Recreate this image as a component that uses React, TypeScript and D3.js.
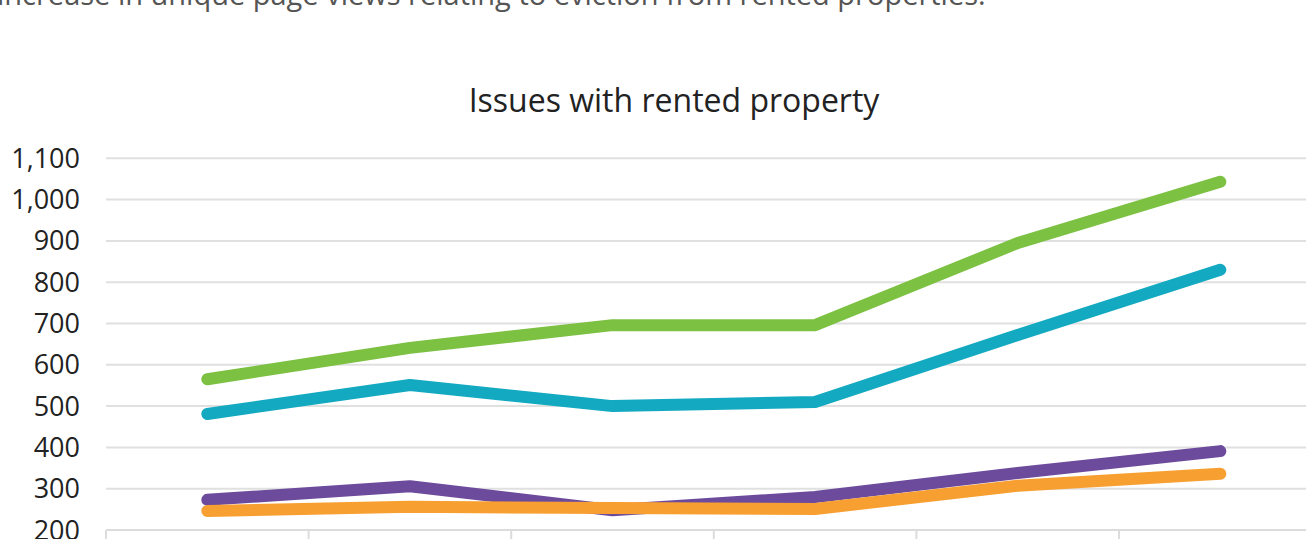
import React, { useEffect, useRef } from 'react';
import * as d3 from 'd3';

// categories sit below the visible crop, labels are not readable
const periods = ['P1', 'P2', 'P3', 'P4', 'P5', 'P6'];
const yTicks = [200, 300, 400, 500, 600, 700, 800, 900, 1000, 1100];

const greenSeries = [565, 641, 696, 696, 895, 1043];
const tealSeries = [481, 551, 500, 510, 672, 830];
const purpleSeries = [273, 306, 248, 280, 338, 391];
const orangeSeries = [246, 256, 253, 251, 307, 336];

const series = [
  { name: 'green', values: greenSeries, color: '#7cc142' },
  { name: 'teal', values: tealSeries, color: '#13a9c1' },
  { name: 'purple', values: purpleSeries, color: '#6d4b9c' },
  { name: 'orange', values: orangeSeries, color: '#f89f31' },
];

const W = 1306;
const H = 539;

export default function App() {
  const ref = useRef<SVGSVGElement>(null);

  useEffect(() => {
    const svg = d3.select(ref.current);
    svg.selectAll('*').remove();

    const font = "'Open Sans', 'Noto Sans', sans-serif";
    const left = 106;
    const step = 202.6;
    const x = d3.scaleBand<string>().domain(periods).range([left, left + step * periods.length]);
    const y = d3.scaleLinear().domain([200, 1100]).range([530, 158.3]);

    // cut-off intro sentence at the very top
    svg.append('text')
      .attr('x', -3)
      .attr('y', 5)
      .attr('font-family', font)
      .attr('font-size', 29)
      .attr('fill', '#555')
      .text('increase in unique page views relating to eviction from rented properties.');

    svg.append('text')
      .attr('x', 674)
      .attr('y', 112)
      .attr('text-anchor', 'middle')
      .attr('font-family', font)
      .attr('font-size', 32)
      .attr('fill', '#222')
      .text('Issues with rented property');

    const grid = svg.append('g');
    grid.selectAll('line')
      .data(yTicks.slice(1))
      .enter()
      .append('line')
      .attr('x1', left)
      .attr('x2', W)
      .attr('y1', d => y(d))
      .attr('y2', d => y(d))
      .attr('stroke', '#e0e0e0')
      .attr('stroke-width', 2);

    // bottom axis with category dividers
    const axis = svg.append('g')
      .attr('transform', 'translate(0,' + y(200) + ')');
    axis.append('line')
      .attr('x1', left).attr('x2', W)
      .attr('stroke', '#dcdcdc').attr('stroke-width', 2);
    axis.selectAll('.divider')
      .data(d3.range(periods.length + 1))
      .enter()
      .append('line')
      .attr('x1', i => left + i * x.step())
      .attr('x2', i => left + i * x.step())
      .attr('y1', 0)
      .attr('y2', 14)
      .attr('stroke', '#dcdcdc')
      .attr('stroke-width', 2);

    svg.append('g')
      .selectAll('text')
      .data(yTicks)
      .enter()
      .append('text')
      .attr('x', 80)
      .attr('y', d => y(d) + 9.5)
      .attr('text-anchor', 'end')
      .attr('font-family', font)
      .attr('font-size', 27)
      .attr('fill', '#222')
      .text(d => d3.format(',')(d));

    const line = d3.line<number>()
      .x((d, i) => (x(periods[i]) as number) + x.bandwidth() / 2)
      .y(d => y(d));

    svg.append('g')
      .selectAll('path')
      .data(series)
      .enter()
      .append('path')
      .attr('d', s => line(s.values))
      .attr('fill', 'none')
      .attr('stroke', s => s.color)
      .attr('stroke-width', 12)
      .attr('stroke-linecap', 'round')
      .attr('stroke-linejoin', 'round');
  }, []);

  return (
    <div style={{ position: 'absolute', left: 0, top: 0 }}>
      <svg ref={ref} width={W} height={H} style={{ display: 'block', background: '#fff' }} />
    </div>
  );
}
